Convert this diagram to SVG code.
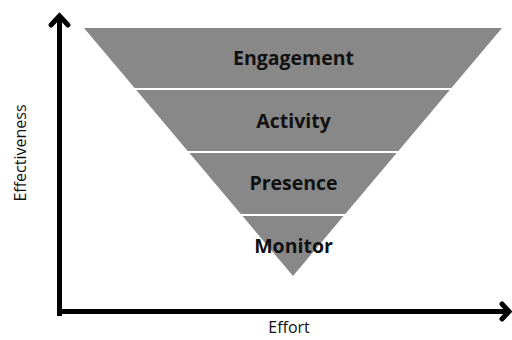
<svg xmlns="http://www.w3.org/2000/svg" width="512" height="340" viewBox="0 0 512 340">
  <style>
    .band { fill: #888888; }
    .sep { stroke: #ffffff; stroke-width: 2; }
    .lbl { font-family: "Open Sans", "Liberation Sans", sans-serif; font-weight: bold; font-size: 19.5px; fill: #111111; text-anchor: middle; }
    .axis-lbl { font-family: "Open Sans", "Liberation Sans", sans-serif; font-size: 16px; fill: #111111; text-anchor: middle; }
    .axis { stroke: #000000; stroke-width: 5; fill: none; }
    .head { stroke: #000000; stroke-width: 5; fill: none; stroke-linejoin: miter; stroke-linecap: round; }
  </style>

  <g id="funnel">
    <polygon class="band" points="84,28 502,28 293,276"/>
    <line class="sep" x1="130" y1="89" x2="456" y2="89"/>
    <line class="sep" x1="183" y1="152" x2="403" y2="152"/>
    <line class="sep" x1="236" y1="215" x2="350" y2="215"/>
  </g>

  <g id="engagement"><text class="lbl" x="293.5" y="65">Engagement</text></g>
  <g id="activity"><text class="lbl" x="293.5" y="128">Activity</text></g>
  <g id="presence"><text class="lbl" x="293.5" y="190">Presence</text></g>
  <g id="monitor"><text class="lbl" x="293.5" y="253">Monitor</text></g>

  <g id="connectors">
    <!-- vertical axis with arrowhead -->
    <line class="axis" x1="59.5" y1="316" x2="59.5" y2="17"/>
    <polyline class="head" points="51,25 59.5,16 68,25"/>
    <!-- horizontal axis with arrowhead -->
    <line class="axis" x1="57" y1="311.5" x2="508" y2="311.5"/>
    <polyline class="head" points="502,304 509,311.5 502,319"/>
  </g>

  <g id="axis-labels">
    <text class="axis-lbl" x="289" y="333">Effort</text>
    <text class="axis-lbl" transform="translate(26,153) rotate(-90)">Effectiveness</text>
  </g>
</svg>
